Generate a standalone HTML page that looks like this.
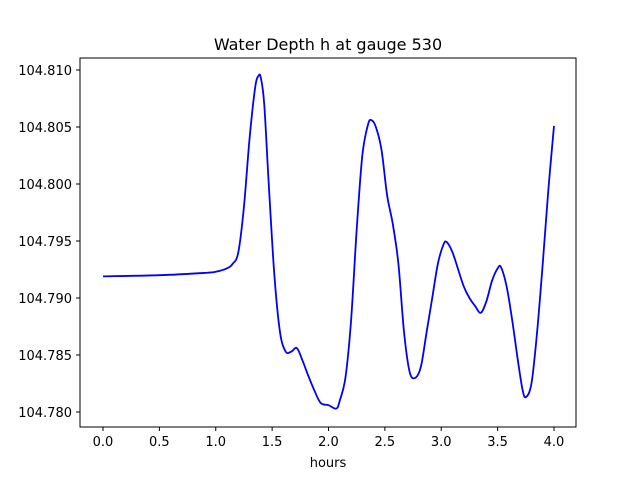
<!DOCTYPE html>
<html><head><meta charset="utf-8"><style>
body{margin:0;background:#fff;font-family:"Liberation Sans",sans-serif}
svg text{font-family:"DejaVu Sans","Liberation Sans",sans-serif;fill:#000}
</style></head><body>
<svg id="chart" width="640" height="480" xmlns="http://www.w3.org/2000/svg">
<rect width="640" height="480" fill="#fff"/>
<text x="328" y="50" font-size="16" text-anchor="middle">Water Depth h at gauge 530</text>
<g id="axes"></g>
<rect x="80" y="58" width="496" height="369" fill="none" stroke="#000" stroke-width="1"/>
<text x="328" y="467" font-size="13" text-anchor="middle">hours</text>
</svg>
<script>
const hours=[0,0.5,0.9,1.0,1.1,1.15,1.2,1.25,1.3,1.35,1.38,1.40,1.43,1.47,1.52,1.57,1.62,1.67,1.72,1.77,1.82,1.87,1.93,2.0,2.07,2.1,2.15,2.2,2.25,2.3,2.35,2.38,2.42,2.47,2.52,2.57,2.62,2.67,2.72,2.77,2.82,2.87,2.92,2.97,3.02,3.05,3.1,3.15,3.2,3.25,3.3,3.35,3.4,3.45,3.5,3.53,3.58,3.63,3.68,3.72,3.75,3.8,3.85,3.9,3.95,4.0];
const depth=[104.7919,104.7920,104.7922,104.7923,104.7926,104.7930,104.7940,104.7980,104.8040,104.8085,104.8095,104.8093,104.8070,104.8000,104.7920,104.7870,104.7853,104.7853,104.7856,104.7845,104.7832,104.7820,104.7808,104.7806,104.7803,104.7810,104.7830,104.7880,104.7960,104.8025,104.8052,104.8056,104.8050,104.8030,104.7990,104.7965,104.7930,104.7870,104.7835,104.7830,104.7840,104.7870,104.7900,104.7930,104.7947,104.7949,104.7940,104.7925,104.7910,104.7900,104.7893,104.7887,104.7897,104.7915,104.7926,104.7927,104.7910,104.7880,104.7845,104.7820,104.7813,104.7825,104.7870,104.7930,104.7995,104.8051];
const xTicks=[0,0.5,1,1.5,2,2.5,3,3.5,4];
const xTickLabels=["0.0","0.5","1.0","1.5","2.0","2.5","3.0","3.5","4.0"];
const yTicks=[104.780,104.785,104.790,104.795,104.800,104.805,104.810];
const yTickLabels=["104.780","104.785","104.790","104.795","104.800","104.805","104.810"];
const NS="http://www.w3.org/2000/svg";
const X=v=>103+v*112.75;
const Y=v=>412-(v-104.780)*11400;
const svg=document.getElementById('chart');
const g=document.getElementById('axes');
xTicks.forEach((t,i)=>{
  const l=document.createElementNS(NS,'line');
  l.setAttribute('x1',X(t));l.setAttribute('x2',X(t));l.setAttribute('y1',427);l.setAttribute('y2',431);l.setAttribute('stroke','#000');
  
  
  g.appendChild(l);
  const tx=document.createElementNS(NS,'text');
  tx.setAttribute('x',X(t));tx.setAttribute('y',446);tx.setAttribute('font-size','13');tx.setAttribute('text-anchor','middle');
  tx.textContent=xTickLabels[i];
  
  
  g.appendChild(tx);
});
yTicks.forEach((t,i)=>{
  const l=document.createElementNS(NS,'line');
  l.setAttribute('x1',76);l.setAttribute('x2',80);l.setAttribute('y1',Y(t));l.setAttribute('y2',Y(t));l.setAttribute('stroke','#000');
  
  
  g.appendChild(l);
  const tx=document.createElementNS(NS,'text');
  tx.setAttribute('x',72);tx.setAttribute('y',Y(t)+5);tx.setAttribute('font-size','13');tx.setAttribute('text-anchor','end');
  tx.textContent=yTickLabels[i];
  
  
  g.appendChild(tx);
});
const pts=hours.map((h,i)=>[X(h),Y(depth[i])]);
let d=`M${pts[0][0]},${pts[0][1]}`;
for(let i=0;i<pts.length-1;i++){
  const p0=pts[Math.max(0,i-1)],p1=pts[i],p2=pts[i+1],p3=pts[Math.min(pts.length-1,i+2)];
  const c1=[p1[0]+(p2[0]-p0[0])/6,p1[1]+(p2[1]-p0[1])/6];
  const c2=[p2[0]-(p3[0]-p1[0])/6,p2[1]-(p3[1]-p1[1])/6];
  d+=` C${c1[0]},${c1[1]} ${c2[0]},${c2[1]} ${p2[0]},${p2[1]}`;
}
const path=document.createElementNS(NS,'path');
path.setAttribute('d',d);path.setAttribute('fill','none');path.setAttribute('stroke','#0000ff');path.setAttribute('stroke-width','1.8');


svg.appendChild(path);
</script>
</body></html>
